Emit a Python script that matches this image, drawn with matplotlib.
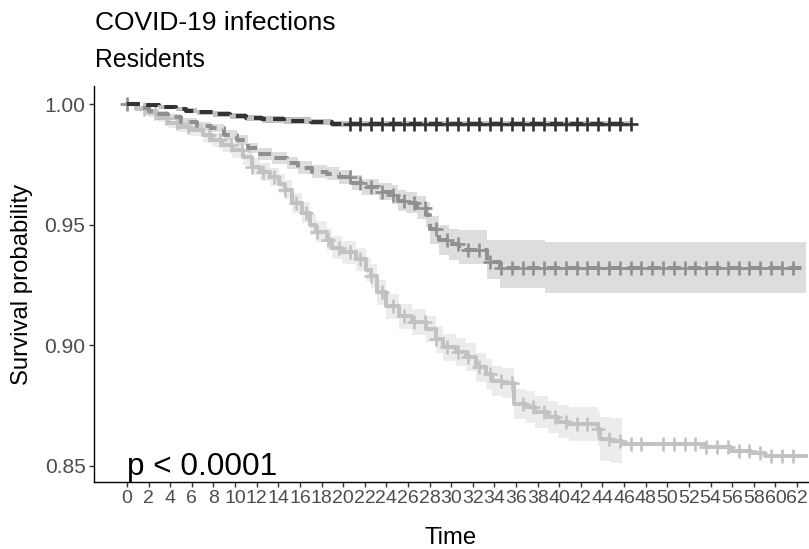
import numpy as np
import matplotlib
matplotlib.use("Agg")
import matplotlib.pyplot as plt

plt.rcParams['font.family'] = ['Liberation Sans', 'DejaVu Sans']

# --- data (time, survival, confidence band) ---
# dark group (dashed, near 1.0)
dark_t = [1.5, 3.0, 4.5, 5.5, 6.5, 8.0, 9.5, 11.0, 12.5, 14.5, 17.0, 19.0]
dark_s = [0.9996, 0.9988, 0.9980, 0.9972, 0.9965, 0.9957, 0.9950, 0.9943, 0.9937, 0.9931, 0.9925, 0.9918]
dark_lo = [0.9990, 0.9980, 0.9971, 0.9962, 0.9954, 0.9945, 0.9937, 0.9930, 0.9923, 0.9917, 0.9911, 0.9905]
dark_hi = [1.0000, 0.9995, 0.9989, 0.9982, 0.9976, 0.9969, 0.9963, 0.9956, 0.9951, 0.9945, 0.9939, 0.9931]
dark_end = 46.6
dark_cens = [20.6 + i for i in range(27)]

# medium group (dashed)
mid_t = [1.0, 2.0, 3.0, 3.8, 5.0, 6.5, 7.8, 9.0, 10.2, 11.2, 12.1, 13.4, 14.8, 15.8, 17.1,
         18.5, 19.6, 20.8, 21.7, 23.3, 24.5, 25.1, 25.8, 26.8, 27.7, 28.0, 28.9, 29.8, 30.7,
         33.3, 34.5, 38.7]
mid_s = [0.9985, 0.9970, 0.9958, 0.9946, 0.9926, 0.9910, 0.9901, 0.9872, 0.9851, 0.9818, 0.9793,
         0.9777, 0.9756, 0.9736, 0.9719, 0.9712, 0.9699, 0.9674, 0.9657, 0.9637, 0.9624, 0.9600,
         0.9591, 0.9570, 0.9542, 0.9480, 0.9438, 0.9418, 0.9397, 0.9347, 0.9322, 0.9322]
mid_lo = [0.9977, 0.9960, 0.9946, 0.9933, 0.9911, 0.9894, 0.9883, 0.9852, 0.9830, 0.9796, 0.9770,
          0.9753, 0.9731, 0.9710, 0.9692, 0.9684, 0.9670, 0.9643, 0.9625, 0.9602, 0.9585, 0.9558,
          0.9547, 0.9522, 0.9490, 0.9418, 0.9375, 0.9352, 0.9335, 0.9275, 0.9236, 0.9215]
mid_hi = [0.9993, 0.9980, 0.9970, 0.9959, 0.9941, 0.9926, 0.9919, 0.9892, 0.9872, 0.9840, 0.9816,
          0.9801, 0.9781, 0.9762, 0.9746, 0.9740, 0.9728, 0.9705, 0.9689, 0.9672, 0.9663, 0.9642,
          0.9635, 0.9618, 0.9594, 0.9535, 0.9500, 0.9484, 0.9478, 0.9438, 0.9438, 0.9430]
mid_end = 62.8
mid_cens = [0.0] + [20.6 + i for i in range(42)]

# light group (solid)
light_t = [0.8, 1.9, 2.9, 3.8, 4.7, 5.8, 7.0, 7.9, 8.8, 9.7, 10.7, 11.6, 12.3, 13.2, 14.1, 14.6,
           15.3, 16.2, 16.9, 17.5, 18.5, 19.0, 19.9, 21.2, 22.1, 22.6, 23.1, 24.0, 25.2, 26.4,
           27.7, 28.6, 29.2, 30.4, 31.4, 32.3, 33.2, 33.8, 34.7, 35.8, 36.9, 37.8, 39.0, 39.9,
           40.9, 43.6, 43.8, 44.8, 45.8, 53.6, 55.9, 57.7, 59.0]
light_s = [0.9980, 0.9963, 0.9942, 0.9921, 0.9905, 0.9893, 0.9870, 0.9851, 0.9831, 0.9810, 0.9781,
           0.9740, 0.9719, 0.9698, 0.9670, 0.9645, 0.9591, 0.9550, 0.9500, 0.9471, 0.9438, 0.9405,
           0.9385, 0.9356, 0.9314, 0.9286, 0.9220, 0.9162, 0.9120, 0.9096, 0.9067, 0.9025, 0.8992,
           0.8972, 0.8951, 0.8910, 0.8881, 0.8852, 0.8843, 0.8757, 0.8744, 0.8724, 0.8703, 0.8683,
           0.8674, 0.8654, 0.8612, 0.8604, 0.8592, 0.8579, 0.8563, 0.8554, 0.8542]
light_lo = [0.9970, 0.9948, 0.9924, 0.9901, 0.9883, 0.9869, 0.9844, 0.9823, 0.9801, 0.9778, 0.9747,
            0.9704, 0.9682, 0.9660, 0.9631, 0.9605, 0.9550, 0.9508, 0.9457, 0.9427, 0.9393, 0.9359,
            0.9338, 0.9308, 0.9265, 0.9236, 0.9169, 0.9110, 0.9067, 0.9042, 0.9012, 0.8969, 0.8935,
            0.8914, 0.8892, 0.8850, 0.8820, 0.8790, 0.8780, 0.8693, 0.8679, 0.8658, 0.8636, 0.8615,
            0.8605, 0.8584, 0.8519, 0.8511]
light_hi = [0.9990, 0.9978, 0.9960, 0.9941, 0.9927, 0.9917, 0.9896, 0.9879, 0.9861, 0.9842, 0.9815,
            0.9776, 0.9756, 0.9736, 0.9709, 0.9685, 0.9632, 0.9592, 0.9543, 0.9515, 0.9483, 0.9451,
            0.9432, 0.9404, 0.9363, 0.9336, 0.9271, 0.9214, 0.9173, 0.9150, 0.9122, 0.9081, 0.9049,
            0.9030, 0.9010, 0.8970, 0.8942, 0.8914, 0.8906, 0.8821, 0.8809, 0.8790, 0.8770, 0.8751,
            0.8743, 0.8724, 0.8705, 0.8697]
light_band_end = 45.8
light_end = 62.8
light_cens = [1.6, 2.6, 3.6, 4.6, 5.6, 7.6, 8.6, 9.6, 10.6, 11.6, 12.6, 13.6, 14.6, 15.6, 16.6,
              17.6, 18.6, 19.6, 20.6, 21.6, 22.6, 23.6, 24.6, 25.6, 26.6, 27.6, 28.6, 29.6, 30.6,
              31.6, 32.6, 33.6, 34.6, 35.6, 36.6, 37.6, 38.6, 39.6, 40.6, 41.6, 42.6, 43.6, 44.6,
              45.6, 46.6, 47.6, 49.6, 50.6, 51.6, 52.6, 53.6, 54.6, 55.6, 56.6, 57.6, 58.6, 59.6,
              60.6, 61.6]

x_ticks = list(range(0, 63, 2))
y_ticks = [0.85, 0.90, 0.95, 1.00]

dark_col, mid_col, light_col = '#333333', '#909090', '#c2c2c2'

# --- figure ---
fig = plt.figure(figsize=(8.09, 5.49), dpi=100)
ax = fig.add_axes([94 / 809, 1 - 482 / 549, 1 - 94 / 809, (482 - 86) / 549])


def full_curve(t, s, end):
    tt = np.r_[0.0, t, end]
    ss = np.r_[1.0, s, s[-1]]
    return tt, ss


def cens_y(tt, ss, c):
    idx = np.searchsorted(tt, c, side='right') - 1
    return ss[np.clip(idx, 0, len(ss) - 1)]


# confidence bands
n_lb = len(light_lo)
bt = np.r_[0.0, light_t[:n_lb], light_band_end]
ax.fill_between(bt, np.r_[1.0, light_lo, light_lo[-1]], np.r_[1.0, light_hi, light_hi[-1]],
                step='post', color=light_col, alpha=0.3, lw=0)
bt = np.r_[0.0, mid_t, mid_end]
ax.fill_between(bt, np.r_[1.0, mid_lo, mid_lo[-1]], np.r_[1.0, mid_hi, mid_hi[-1]],
                step='post', color=mid_col, alpha=0.3, lw=0)
bt = np.r_[0.0, dark_t, dark_end]
ax.fill_between(bt, np.r_[1.0, dark_lo, dark_lo[-1]], np.r_[1.0, dark_hi, dark_hi[-1]],
                step='post', color=dark_col, alpha=0.3, lw=0)

# curves + censor marks
groups = [
    (light_t, light_s, light_end, light_cens, light_col, '-'),
    (mid_t, mid_s, mid_end, mid_cens, mid_col, '--'),
    (dark_t, dark_s, dark_end, dark_cens, dark_col, '--'),
]
for t, s, end, cens, col, ls in groups:
    tt, ss = full_curve(t, s, end)
    line, = ax.step(tt, ss, where='post', color=col, lw=2.9, ls=ls)
    if ls == '--':
        line.set_dashes((3.2, 1.8))
    ax.plot(cens, cens_y(tt, ss, np.array(cens)), ls='none', marker='+',
            ms=9.5, mew=1.9, color=col)

ax.text(0, 0.8462, 'p < 0.0001', fontsize=22.7, ha='left', va='baseline')

ax.set_xlim(-3.054, 63.11)
ax.set_ylim(0.84337, 1.00746)
ax.set_xticks(x_ticks)
ax.set_xticklabels([str(v) for v in x_ticks])
ax.set_yticks(y_ticks)
ax.set_yticklabels([f'{v:.2f}' for v in y_ticks])
ax.tick_params(axis='both', length=3.6, width=1.0, color='#333333',
               labelcolor='#4d4d4d', pad=2.5)
ax.tick_params(axis='y', labelsize=15.1)
ax.tick_params(axis='x', labelsize=14.0)
for side in ['top', 'right']:
    ax.spines[side].set_visible(False)
for side in ['left', 'bottom']:
    ax.spines[side].set_linewidth(1.0)

fig.text(95 / 809, 1 - 30 / 549, 'COVID-19 infections', fontsize=19.0, ha='left', va='baseline')
fig.text(95 / 809, 1 - 67 / 549, 'Residents', fontsize=17.8, ha='left', va='baseline')
fig.text(451 / 809, 1 - 544 / 549, 'Time', fontsize=17.2, ha='center', va='baseline')
fig.text(22 / 809, 1 - 284 / 549, 'Survival probability', fontsize=17.2, rotation=90,
         ha='center', va='center')

fig.savefig('out.png', dpi=100)
